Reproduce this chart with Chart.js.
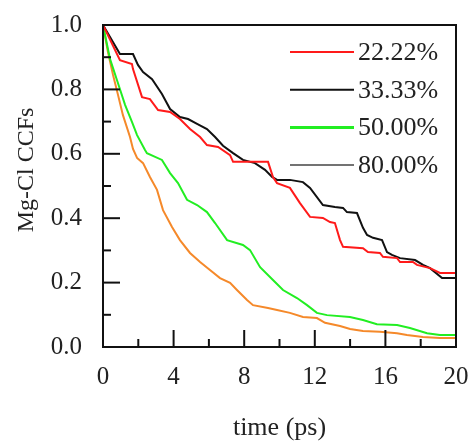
<!DOCTYPE html>
<html>
<head>
<meta charset="UTF-8">
<title>Mg-Cl CCFs</title>
<script src="https://cdn.jsdelivr.net/npm/chart.js"></script>
<style>
    body { margin: 0; background: #ffffff; }
    #wrap { width: 470px; height: 444px; }
</style>
</head>
<body>
<div id="wrap"><canvas id="ccf" width="470" height="444"></canvas></div>
<script>
// series labels (legend)
const seriesNames = ['22.22%', '33.33%', '50.00%', '80.00%'];

// 22.22%
const tRed = [0, 0.96, 1.64, 1.70, 2.21, 2.66, 3.12, 3.80, 4.36, 4.93, 5.50, 5.89, 6.52, 7.20, 7.37, 7.93, 9.35, 9.63, 9.86, 10.59,
    11.16, 11.73, 12.46, 12.86, 13.14, 13.43, 13.60, 14.73, 15.01, 15.69, 15.86, 16.66, 16.83, 17.56, 17.79, 18.53, 19.09, 20];
const vRed = [1.0, 0.891, 0.879, 0.863, 0.776, 0.770, 0.736, 0.730, 0.708, 0.677, 0.652, 0.627, 0.621, 0.596, 0.575, 0.575, 0.575, 0.528, 0.509, 0.494,
    0.447, 0.404, 0.401, 0.388, 0.385, 0.332, 0.311, 0.307, 0.295, 0.292, 0.280, 0.276, 0.264, 0.264, 0.255, 0.245, 0.230, 0.230];

// 33.33%
const tBlack = [0, 0.96, 1.70, 1.98, 2.27, 2.78, 3.34, 3.80, 4.36, 4.82, 5.33, 5.89, 6.35, 6.80, 7.37, 7.93, 8.61, 9.18, 9.58, 9.86,
    10.59, 11.33, 11.73, 12.46, 13.14, 13.60, 13.82, 14.39, 14.73, 14.96, 15.30, 15.81, 16.09, 16.37, 16.83, 17.68, 18.13, 18.53, 19.21, 20];
const vBlack = [1.0, 0.91, 0.91, 0.876, 0.854, 0.832, 0.786, 0.739, 0.714, 0.708, 0.693, 0.677, 0.652, 0.625, 0.602, 0.581, 0.571, 0.550, 0.528, 0.519,
    0.519, 0.512, 0.494, 0.441, 0.435, 0.432, 0.419, 0.416, 0.370, 0.348, 0.339, 0.332, 0.295, 0.286, 0.276, 0.270, 0.255, 0.245, 0.214, 0.214];

// 50.00%
const tGreen = [0, 0.40, 0.79, 1.25, 1.64, 1.93, 2.38, 2.49, 3.34, 3.80, 4.25, 4.76, 5.33, 5.89, 6.35, 7.03, 7.93, 8.33, 8.90, 9.63,
    10.20, 10.99, 11.56, 12.12, 12.69, 13.99, 14.73, 15.52, 16.66, 17.39, 18.36, 19.09, 20];
const vGreen = [1.0, 0.894, 0.829, 0.752, 0.699, 0.658, 0.612, 0.602, 0.581, 0.540, 0.509, 0.457, 0.441, 0.419, 0.385, 0.332, 0.317, 0.301, 0.248, 0.208,
    0.177, 0.152, 0.130, 0.106, 0.099, 0.093, 0.084, 0.071, 0.068, 0.059, 0.043, 0.037, 0.037];

// 80.00%
const tOrange = [0, 0.28, 0.57, 0.85, 1.13, 1.53, 1.70, 1.93, 2.27, 2.66, 3.06, 3.40, 3.91, 4.36, 4.93, 5.50, 6.06, 6.63, 7.20, 7.59,
    8.16, 8.50, 9.35, 9.86, 10.59, 11.33, 12.12, 12.58, 13.43, 14.00, 14.73, 15.69, 16.66, 17.22, 18.13, 19.09, 20];
const vOrange = [1.0, 0.916, 0.845, 0.783, 0.720, 0.652, 0.615, 0.587, 0.571, 0.528, 0.488, 0.425, 0.373, 0.332, 0.292, 0.264, 0.239, 0.214, 0.199, 0.177,
    0.146, 0.130, 0.121, 0.115, 0.106, 0.093, 0.090, 0.075, 0.065, 0.056, 0.050, 0.047, 0.043, 0.037, 0.031, 0.028, 0.028];

// axis ticks
const xTicks = [0, 4, 8, 12, 16, 20];
const yTicks = [0, 0.2, 0.4, 0.6, 0.8, 1.0];

const serif = "'Liberation Serif', 'Times New Roman', serif";
const lineColors = ['#ff1a1a', '#111111', '#22ee22', '#f5892a'];
const legendColors = ['#ff1a1a', '#111111', '#22ee22', '#444444'];
const legendWidths = [2, 2, 3, 1.5];

function pts(t, v) {
    return t.map((x, i) => ({ x: x, y: v[i] }));
}

// inward ticks, box frame, legend and y title
const framePlugin = {
    id: 'frame',
    afterDatasetsDraw(chart) {
        const ctx = chart.ctx;
        const a = chart.chartArea;
        const xs = chart.scales.x, ys = chart.scales.y;
        ctx.save();
        ctx.strokeStyle = '#111';
        ctx.lineWidth = 2;
        for (let i = 0; i <= 10; i++) {
            const px = xs.getPixelForValue(i * 2);
            const len = (i % 2 === 0) ? 17 : 8;
            ctx.beginPath();
            ctx.moveTo(px, a.bottom);
            ctx.lineTo(px, a.bottom - len);
            ctx.stroke();
            const py = ys.getPixelForValue(i / 10);
            ctx.beginPath();
            ctx.moveTo(a.left, py);
            ctx.lineTo(a.left + len, py);
            ctx.stroke();
        }
        ctx.strokeRect(a.left, a.top, a.right - a.left, a.bottom - a.top);

        // legend
        ctx.font = '26px ' + serif;
        ctx.textBaseline = 'middle';
        ctx.textAlign = 'left';
        ctx.fillStyle = '#222';
        seriesNames.forEach((name, i) => {
            const y = 52 + i * 37.7;
            ctx.strokeStyle = legendColors[i];
            ctx.lineWidth = legendWidths[i];
            ctx.beginPath();
            ctx.moveTo(290, y);
            ctx.lineTo(354, y);
            ctx.stroke();
            ctx.fillText(name, 358, y + 1);
        });

        // y axis title
        ctx.translate(27, 170);
        ctx.rotate(-Math.PI / 2);
        ctx.textAlign = 'center';
        ctx.font = '24px ' + serif;
        ctx.fillText('Mg-Cl CCFs', 0, 0);
        ctx.restore();
    }
};

new Chart(document.getElementById('ccf'), {
    type: 'line',
    data: {
        datasets: [
            { label: seriesNames[0], data: pts(tRed, vRed), borderColor: lineColors[0] },
            { label: seriesNames[1], data: pts(tBlack, vBlack), borderColor: lineColors[1] },
            { label: seriesNames[2], data: pts(tGreen, vGreen), borderColor: lineColors[2] },
            { label: seriesNames[3], data: pts(tOrange, vOrange), borderColor: lineColors[3] }
        ]
    },
    options: {
        responsive: false,
        animation: false,
        elements: {
            line: { borderWidth: 2, tension: 0, fill: false },
            point: { radius: 0 }
        },
        layout: { padding: { top: 25, right: 14, left: 0, bottom: 0 } },
        plugins: {
            legend: { display: false },
            tooltip: { enabled: false }
        },
        scales: {
            x: {
                type: 'linear',
                min: 0,
                max: 20,
                afterBuildTicks: s => { s.ticks = xTicks.map(v => ({ value: v })); },
                afterFit: s => { s.height = 97; s.paddingLeft = 0; s.paddingRight = 0; },
                grid: { display: false, drawTicks: false },
                border: { display: false },
                ticks: {
                    padding: 15,
                    color: '#222',
                    font: { family: serif, size: 25 }
                },
                title: {
                    display: true,
                    text: 'time (ps)',
                    color: '#222',
                    padding: { top: 0, bottom: 0 },
                    font: { family: serif, size: 26 }
                }
            },
            y: {
                min: 0,
                max: 1,
                afterBuildTicks: s => { s.ticks = yTicks.map(v => ({ value: v })); },
                afterFit: s => { s.width = 103; s.paddingTop = 0; s.paddingBottom = 0; },
                grid: { display: false, drawTicks: false },
                border: { display: false },
                ticks: {
                    padding: 21,
                    color: '#222',
                    font: { family: serif, size: 25 },
                    callback: v => Number(v).toFixed(1)
                }
            }
        }
    },
    plugins: [framePlugin]
});
</script>
</body>
</html>
